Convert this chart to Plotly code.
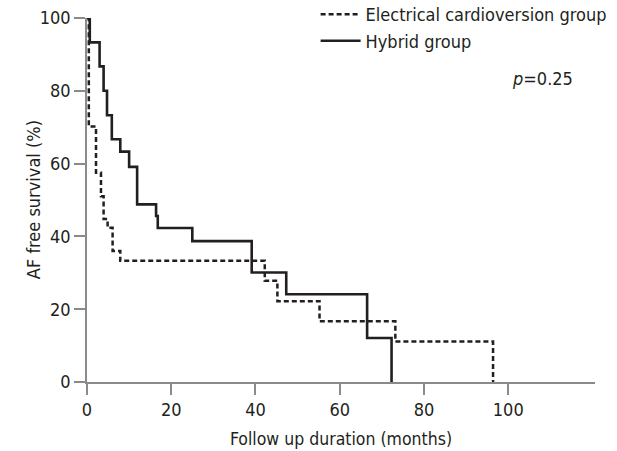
import plotly.graph_objects as go

# Kaplan-Meier step data (months, % AF free survival)
ec_months = [0, 0.43, 2.14, 3.32, 3.94, 4.89, 6.08, 7.9, 42.2, 45.2, 55.2, 73.2, 96.4]
ec_surv = [100, 70.2, 57.5, 51.0, 44.8, 42.4, 36.0, 33.3, 27.8, 22.2, 16.7, 11.1, 0]

hy_months = [0, 0.66, 2.99, 3.94, 4.75, 5.89, 7.9, 10.0, 11.9, 16.4, 16.8, 25.0, 39.1, 47.3, 66.5, 72.3]
hy_surv = [100, 93.3, 86.7, 80.0, 73.3, 66.7, 63.3, 59.1, 48.8, 45.6, 42.3, 38.7, 30.1, 24.1, 12.1, 0]

x_ticks = [0, 20, 40, 60, 80, 100]
y_ticks = [0, 20, 40, 60, 80, 100]

FONT = "DejaVu Sans Condensed, Liberation Sans Narrow, sans-serif"
INK = "#231f20"
AXIS = "#8a8a8a"

fig = go.Figure()
fig.add_trace(go.Scatter(
    x=ec_months, y=ec_surv, mode="lines", line_shape="hv",
    name="Electrical cardioversion group",
    line=dict(color=INK, width=2.5, dash="5px,3px"),
))
fig.add_trace(go.Scatter(
    x=hy_months, y=hy_surv, mode="lines", line_shape="hv",
    name="Hybrid group",
    line=dict(color=INK, width=2.6),
))

fig.update_layout(
    width=617, height=451,
    margin=dict(l=87, r=22, t=18, b=69, autoexpand=False),
    paper_bgcolor="white", plot_bgcolor="white",
    font=dict(family=FONT, size=18, color=INK),
    showlegend=True,
    legend=dict(x=0.45, y=1.06, xanchor="left", yanchor="top",
                bgcolor="rgba(0,0,0,0)", font=dict(size=18),
                itemwidth=40, tracegroupgap=0),
    xaxis=dict(range=[0, 120.6], tickvals=x_ticks, ticks="outside", ticklen=11,
               tickwidth=1.5, tickcolor=AXIS, showline=True, linecolor=AXIS,
               linewidth=1.5, showgrid=False, zeroline=False,
               ticklabeloverflow="allow",
               title=dict(text="Follow up duration (months)", standoff=13,
                          font=dict(size=17.5))),
    yaxis=dict(range=[0, 100], tickvals=y_ticks, ticks="outside", ticklen=11,
               tickwidth=1.5, tickcolor=AXIS, showline=True, linecolor=AXIS,
               linewidth=1.5, showgrid=False, zeroline=False,
               ticklabeloverflow="allow"),
    annotations=[
        dict(text="<i>p</i>=0.25", xref="paper", yref="paper",
             x=0.961, y=0.835, xanchor="right", yanchor="middle",
             showarrow=False, font=dict(size=18)),
        dict(text="AF free survival (%)", xref="paper", yref="paper",
             x=-0.106, y=0.5, xanchor="center", yanchor="middle",
             textangle=-90, showarrow=False, font=dict(size=18)),
    ],
)

fig.write_html("out.html",
               config={"displayModeBar": False},
               post_script="document.body.style.margin='0px';")
